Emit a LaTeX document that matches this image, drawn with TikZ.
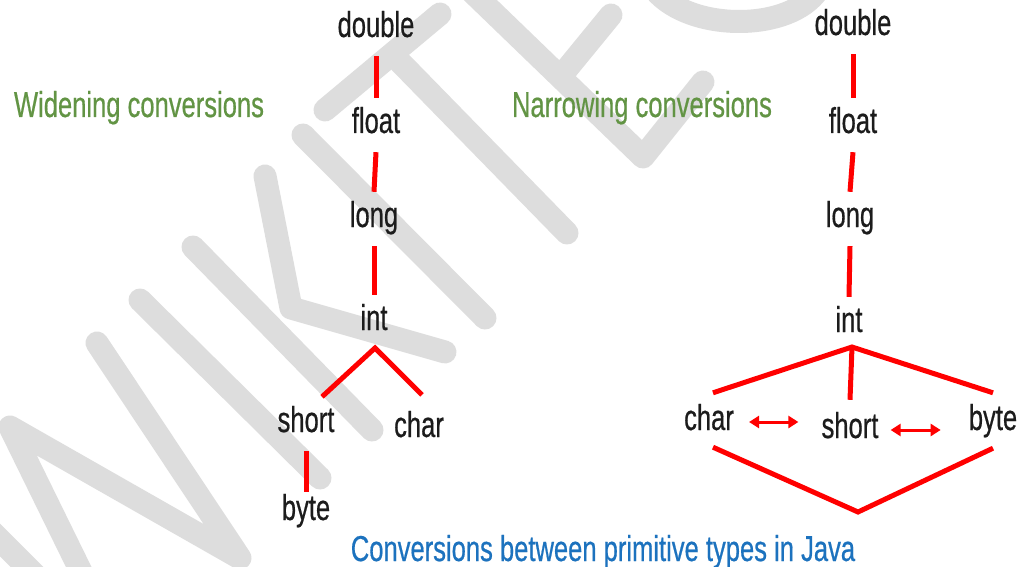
\documentclass[tikz,border=0pt]{standalone}
\usepackage{fontspec}
\setmainfont{Liberation Sans}[FakeStretch=0.71, FakeBold=0.5]
\usepackage{xcolor}
\usepackage{tikz}
\usetikzlibrary{arrows.meta, positioning}

\definecolor{wmgray}{RGB}{221,221,221}
\definecolor{convred}{RGB}{255,0,0}
\definecolor{titlegreen}{RGB}{98,148,68}
\definecolor{captionblue}{RGB}{28,114,190}
\definecolor{typeblack}{RGB}{28,28,28}

\begin{document}
\begin{tikzpicture}[x=1pt, y=-1pt,
  wmark/.style={wmgray, line width=23pt, line cap=round, line join=round},
  typ/.style={text=typeblack, font=\fontsize{36}{42}\selectfont, anchor=base, inner xsep=0pt, inner ysep=11pt, text height=24pt, text depth=8pt},
  heading/.style={font=\fontsize{36}{42}\selectfont, anchor=base, inner sep=0pt},
  conv/.style={convred, line width=5pt},
  twoway/.style={convred, line width=3pt, {Triangle[length=10pt,width=12pt]}-{Triangle[length=10pt,width=12pt]}}]
\useasboundingbox (0,0) rectangle (1021,567);
\fill[white] (0,0) rectangle (1021,567);

\begin{scope}
\clip (0,0) rectangle (1021,567);
\draw[wmark] (-20,520) -- (45,585);
\draw[wmark] (90,590) -- (10,427) -- (240,558) -- (97,343);
\draw[wmark] (140,300) -- (320,478);
\draw[wmark] (193,247) -- (372,430);
\draw[wmark] (265,176) -- (291,308) -- (445,352);
\draw[wmark] (303,135) -- (485,318);
\draw[wmark] (440,14) -- (325,110);
\draw[wmark] (400,62) -- (567,233);
\draw[wmark] (470,-10) -- (643,157) -- (703,82);
\draw[wmark] (566,70) -- (611,15);
\draw[wmark] (655,-10) .. controls (690,32) and (790,32) .. (818,-10);
\end{scope}

\node[heading, text=titlegreen] (widen) at (139,117) {Widening conversions};
\node[heading, text=titlegreen] (narrow) at (642,117) {Narrowing conversions};
\node[heading, text=captionblue] (caption) at (603,561) {Conversions between primitive types in Java};

\node[typ] (dbl1) at (376,37) {double};
\node[typ] (flt1) at (376,133) {float};
\node[typ] (lng1) at (374,227) {long};
\node[typ] (int1) at (374,330) {int};
\node[typ] (sht1) at (306,432) {short};
\node[typ] (chr1) at (419,437) {char};
\node[typ] (byt1) at (306,520) {byte};

\draw[conv] (dbl1.south) -- (flt1.north);
\draw[conv] (flt1.south) -- (lng1.north);
\draw[conv] (lng1.south) -- (int1.north);
\coordinate (top1) at (375,348);
\draw[conv] ([xshift=16pt]sht1.north) -- (top1) -- ([xshift=3pt,yshift=7pt]chr1.north);
\draw[conv] (sht1.south) -- ([yshift=-7pt]byt1.north);

\node[typ] (dbl2) at (853,35) {double};
\node[typ] (flt2) at (853,133) {float};
\node[typ] (lng2) at (850,227) {long};
\node[typ] (int2) at (849,332) {int};
\node[typ] (chr2) at (709,430) {char};
\node[typ] (sht2) at (850,438) {short};
\node[typ] (byt2) at (993,430) {byte};

\draw[conv] (dbl2.south) -- (flt2.north);
\draw[conv] (flt2.south) -- (lng2.north);
\draw[conv] (lng2.south) -- (int2.north);
\coordinate (top2) at (852,347);
\draw[conv] ([xshift=4pt,yshift=2pt]chr2.north) -- (top2) -- ([yshift=2pt]byt2.north);
\draw[conv] (top2) -- ([yshift=3pt]sht2.north);
\coordinate (bot2) at (858,512);
\draw[conv] ([xshift=4pt,yshift=2pt]chr2.south) -- (bot2) -- ([yshift=1pt]byt2.south);
\draw[twoway, shorten <=15pt, shorten >=23pt] (chr2.east) -- (chr2.east -| sht2.west);
\draw[twoway, shorten <=12pt, shorten >=28pt] (sht2.east) -- (sht2.east -| byt2.west);
\end{tikzpicture}
\end{document}
